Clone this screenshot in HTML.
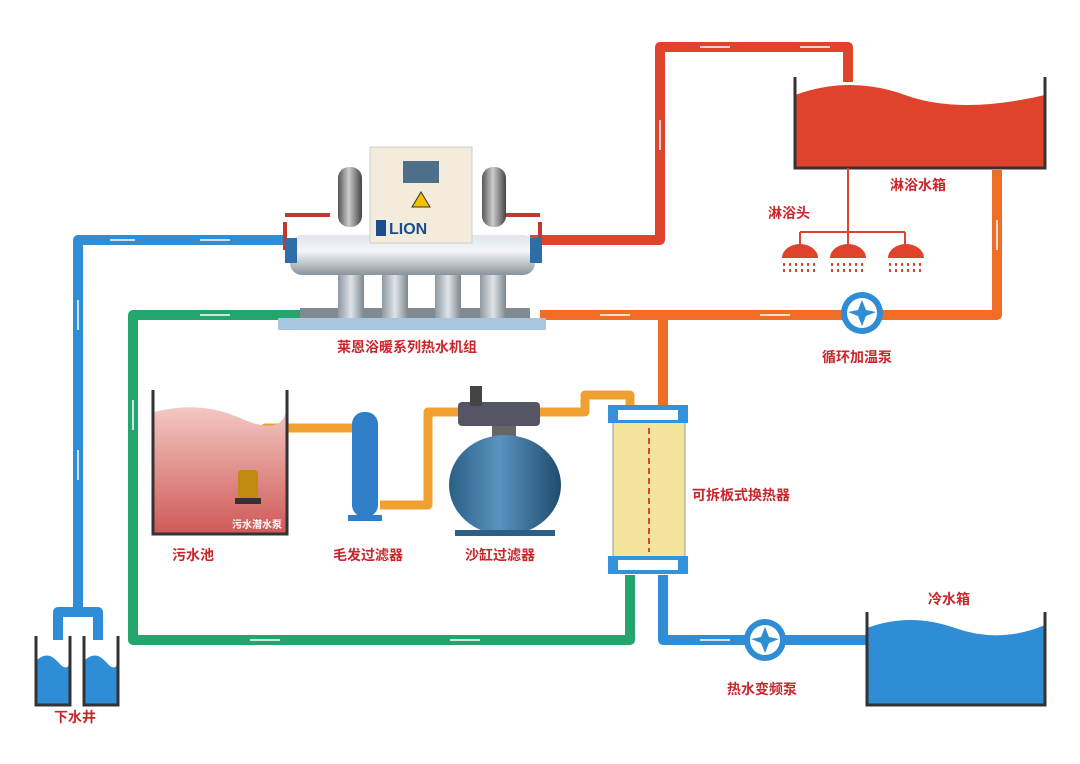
<!DOCTYPE html>
<html><head><meta charset="utf-8"><style>
body{margin:0;background:#fff}
svg{display:block}
text{font-family:"Liberation Sans","Noto Sans CJK SC",sans-serif;font-weight:bold;fill:#c8262b}
</style></head><body>
<svg width="1080" height="764" viewBox="0 0 1080 764" xmlns="http://www.w3.org/2000/svg">
<defs>
<linearGradient id="cyl" x1="0" y1="0" x2="0" y2="1"><stop offset="0" stop-color="#dfe5ea"/><stop offset=".4" stop-color="#f5f7f9"/><stop offset="1" stop-color="#8a949c"/></linearGradient>
<linearGradient id="leg" x1="0" x2="1"><stop offset="0" stop-color="#8e98a0"/><stop offset=".5" stop-color="#dfe4e8"/><stop offset="1" stop-color="#7d868e"/></linearGradient>
<linearGradient id="comp" x1="0" x2="1"><stop offset="0" stop-color="#555"/><stop offset=".45" stop-color="#ccc"/><stop offset="1" stop-color="#444"/></linearGradient>
<linearGradient id="sand" x1="0" x2="1"><stop offset="0" stop-color="#2b5f86"/><stop offset=".45" stop-color="#5a93bf"/><stop offset="1" stop-color="#1f4b6d"/></linearGradient>
<linearGradient id="pool" x1="0" y1="0" x2="0" y2="1"><stop offset="0" stop-color="#f3c8c3"/><stop offset="1" stop-color="#cf5a58"/></linearGradient>
</defs>
<g fill="none" stroke-linejoin="round">
<!-- blue left -->
<path d="M285 240 H78 V612" stroke="#2f8dd6" stroke-width="10"/>
<path d="M58 640 V612 H98 V640" stroke="#2f8dd6" stroke-width="10"/>
<!-- red -->
<path d="M530 240 H660 V47 H848 V82" stroke="#e0432b" stroke-width="10"/>
<!-- orange right -->
<path d="M997 170 V315 H540" stroke="#ef6d25" stroke-width="10"/>
<path d="M663 315 V408" stroke="#ef6d25" stroke-width="10"/>
<!-- green -->
<path d="M300 315 H133 V640 H630 V575" stroke="#25a56e" stroke-width="10"/>
<!-- blue bottom -->
<path d="M663 575 V640 H868" stroke="#2f8dd6" stroke-width="10"/>
<!-- orange filter line -->
<path d="M265 470 V428 H352" stroke="#f0a030" stroke-width="9"/>
<path d="M380 505 H428 V412 H458" stroke="#f0a030" stroke-width="9"/>
<path d="M540 412 H585 V395 H630 V408" stroke="#f0a030" stroke-width="9"/>
</g>
<!-- white flow marks -->
<g stroke="#fff" stroke-width="1.5" fill="none">
<path d="M200 240 h30 M110 240 h25 M78 300 v30 M78 450 v30 M700 47 h30 M800 47 h30 M660 120 v30 M997 220 v30 M760 315 h30 M600 315 h30 M133 400 v30 M200 315 h30 M250 640 h30 M450 640 h30 M700 640 h30"/>
</g>
<!-- shower tank -->
<path d="M795 95 Q850 75 905 95 T1045 95 V168 H795Z" fill="#e0432b"/>
<path d="M795 77 V168 H1045 V77" fill="none" stroke="#333" stroke-width="3"/>
<text x="890" y="190" font-size="14">淋浴水箱</text>
<path d="M848 168 V232 M800 232 H905 M800 232 V245 M848 232 V245 M905 232 V245" stroke="#e0432b" stroke-width="2" fill="none"/>
<text x="768" y="218" font-size="14">淋浴头</text>
<g fill="#e0432b">
<path d="M782 258 a18 14 0 0 1 36 0z"/><path d="M830 258 a18 14 0 0 1 36 0z"/><path d="M888 258 a18 14 0 0 1 36 0z"/>
</g>
<g stroke="#e0432b" stroke-width="2" stroke-dasharray="3 3">
<path d="M784 263v12M790 263v12M796 263v12M802 263v12M808 263v12M814 263v12M832 263v12M838 263v12M844 263v12M850 263v12M856 263v12M862 263v12M890 263v12M896 263v12M902 263v12M908 263v12M914 263v12M920 263v12"/>
</g>
<!-- pumps -->
<circle cx="862" cy="313" r="21" fill="#2f8dd6"/><circle cx="862" cy="313" r="15" fill="#fff"/>
<path d="M862 300 l4 10 l10 2 l-10 4 l-4 10 l-4 -10 l-10 -4 l10 -2z" fill="#2f8dd6"/>
<text x="822" y="362" font-size="14">循环加温泵</text>
<circle cx="765" cy="640" r="21" fill="#2f8dd6"/><circle cx="765" cy="640" r="15" fill="#fff"/>
<path d="M765 627 l4 10 l10 2 l-10 4 l-4 10 l-4 -10 l-10 -4 l10 -2z" fill="#2f8dd6"/>
<text x="727" y="694" font-size="14">热水变频泵</text>
<!-- cold tank -->
<path d="M867 628 Q910 612 955 628 T1045 625 V705 H867Z" fill="#2f8dd6"/>
<path d="M867 612 V705 H1045 V612" fill="none" stroke="#333" stroke-width="3"/>
<text x="928" y="604" font-size="14">冷水箱</text>
<!-- well -->
<path d="M37 660 Q48 650 58 662 T70 660 V704 H37Z M85 660 Q96 650 106 662 T118 660 V704 H85Z" fill="#2f8dd6"/>
<path d="M36 636 V705 H70 V636 M84 636 V705 H118 V636" fill="none" stroke="#333" stroke-width="3"/>
<text x="54" y="722" font-size="14">下水井</text>
<!-- heat exchanger -->
<rect x="613" y="420" width="72" height="138" fill="#f4e39a" stroke="#999"/>
<path d="M649 428 V552" stroke="#d64a2a" stroke-width="2" stroke-dasharray="6 4"/>
<rect x="608" y="405" width="80" height="18" fill="#3592d8"/><rect x="618" y="410" width="60" height="10" fill="#fff"/>
<rect x="608" y="556" width="80" height="18" fill="#3592d8"/><rect x="618" y="560" width="60" height="10" fill="#fff"/>
<text x="692" y="500" font-size="14">可拆板式换热器</text>
<!-- sewage pool -->
<path d="M154 412 Q200 400 240 418 T286 412 V533 H154Z" fill="url(#pool)"/>
<path d="M153 390 V534 H287 V390" fill="none" stroke="#333" stroke-width="3"/>
<rect x="238" y="470" width="20" height="30" rx="4" fill="#c08a10"/><rect x="235" y="498" width="26" height="6" fill="#333"/>
<text x="232" y="528" font-size="10" fill="#fff" style="fill:#fff">污水潜水泵</text>
<text x="172" y="560" font-size="14">污水池</text>
<!-- hair filter -->
<rect x="352" y="412" width="26" height="105" rx="12" fill="#2f7ec7"/>
<rect x="348" y="515" width="34" height="6" fill="#2f7ec7"/>
<text x="333" y="560" font-size="14">毛发过滤器</text>
<!-- sand filter -->
<rect x="458" y="402" width="82" height="24" rx="4" fill="#556" />
<rect x="470" y="386" width="12" height="20" fill="#444"/>
<rect x="492" y="426" width="24" height="16" fill="#666"/>
<ellipse cx="505" cy="485" rx="56" ry="50" fill="url(#sand)"/>
<rect x="455" y="530" width="100" height="6" fill="#2b5f86"/>
<text x="465" y="560" font-size="14">沙缸过滤器</text>
<!-- machine -->
<rect x="278" y="318" width="268" height="12" fill="#a8c6dd"/>
<rect x="300" y="308" width="230" height="10" fill="#7f8a93"/>
<rect x="338" y="270" width="26" height="48" fill="url(#leg)"/><rect x="382" y="270" width="26" height="48" fill="url(#leg)"/>
<rect x="435" y="270" width="26" height="48" fill="url(#leg)"/><rect x="480" y="270" width="26" height="48" fill="url(#leg)"/>
<path d="M285 215 H330 M500 215 H540 M285 222 V250 M540 222 V250" stroke="#c0392b" stroke-width="4" fill="none"/>
<rect x="290" y="235" width="245" height="40" rx="12" fill="url(#cyl)"/>
<rect x="285" y="238" width="12" height="25" fill="#2f6fa8"/><rect x="530" y="238" width="12" height="25" fill="#2f6fa8"/>
<rect x="338" y="167" width="24" height="60" rx="11" fill="url(#comp)"/>
<rect x="482" y="167" width="24" height="60" rx="11" fill="url(#comp)"/>
<rect x="370" y="147" width="102" height="96" fill="#f3ecdc" stroke="#ccc"/>
<rect x="403" y="161" width="36" height="22" fill="#4d6f8a"/>
<path d="M421 192 l9 15 h-18z" fill="#f2c200" stroke="#333" stroke-width="1"/>
<rect x="376" y="220" width="10" height="16" fill="#1a4c90"/>
<text x="389" y="234" font-size="16" style="fill:#1a4c90">LION</text>
<text x="337" y="352" font-size="14">莱恩浴暖系列热水机组</text>
</svg>
</body></html>
